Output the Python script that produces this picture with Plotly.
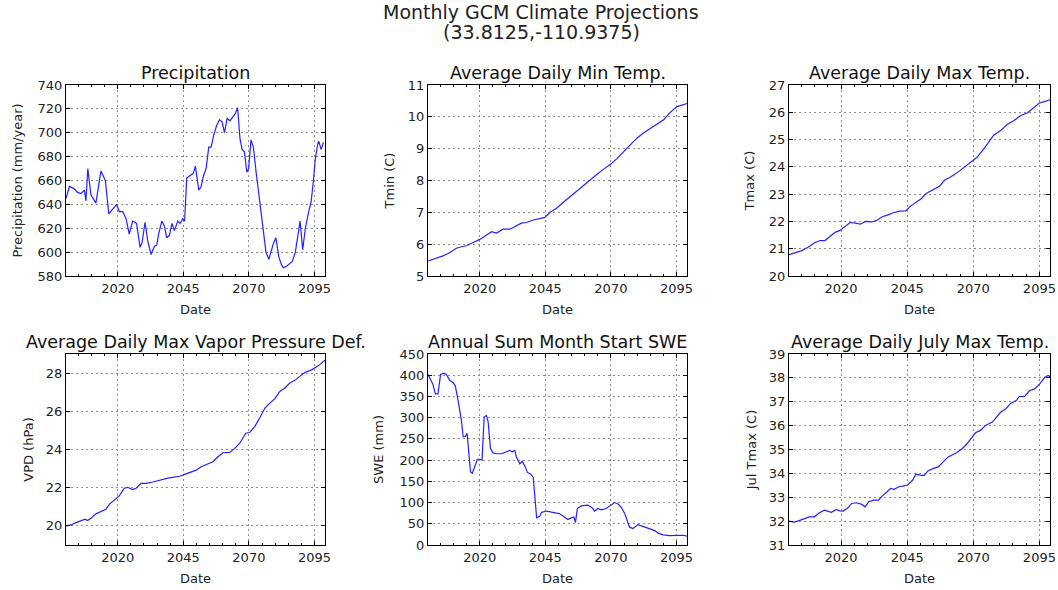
import plotly.graph_objects as go

# ---------------- data ----------------
precip_years = [2000.3, 2001.6, 2003.5, 2004.7, 2006.0, 2007.3, 2007.9, 2008.6, 2009.8, 2011.7,
                2013.6, 2015.3, 2016.6, 2018.1, 2019.6, 2020.6, 2021.9, 2023.2, 2024.4, 2025.7,
                2027.2, 2028.5, 2029.3, 2030.4, 2031.4, 2032.7, 2034.0, 2034.9, 2035.6, 2036.8,
                2037.8, 2038.7, 2039.7, 2040.7, 2041.6, 2042.9, 2043.8, 2044.8, 2045.5, 2046.3,
                2047.9, 2048.8, 2049.6, 2050.9, 2051.8, 2052.7, 2053.7, 2054.7, 2055.6, 2056.6,
                2057.7, 2058.8, 2059.8, 2060.7, 2061.7, 2062.8, 2064.1, 2064.8, 2065.7, 2066.6,
                2067.4, 2068.3, 2069.2, 2069.9, 2070.8, 2071.7, 2072.7, 2074.0, 2075.3, 2076.5,
                2077.6, 2078.4, 2079.3, 2080.3, 2081.4, 2082.3, 2083.1, 2084.2, 2085.2, 2086.5,
                2087.7, 2088.6, 2089.5, 2090.5, 2091.5, 2092.8, 2093.7, 2094.6, 2095.3, 2096.2,
                2096.6, 2097.5, 2098.4]
precip_vals = [645, 655, 653, 650, 649, 652, 643, 670, 648, 641,
               668, 660, 632, 636, 640, 634, 634, 628, 615, 626,
               624, 604, 608, 625, 610, 598, 605, 606, 615, 626,
               622, 612, 614, 624, 618, 626, 624, 628, 626, 662,
               665, 666, 672, 652, 655, 664, 670, 688, 688, 698,
               706, 711, 709, 700, 712, 710, 714, 716, 721, 695,
               686, 684, 667, 670, 694, 688, 668, 645, 622, 600,
               594, 600, 607, 612, 596, 590, 587, 588, 590, 592,
               600, 614, 626, 602, 620, 634, 642, 660, 678, 690,
               693, 686, 692]

tmin_years = [2000.3, 2003.4, 2006.0, 2008.5, 2011.1, 2013.0, 2014.9, 2017.5, 2020.0, 2022.5,
              2024.5, 2026.4, 2028.9, 2031.5, 2034.0, 2035.9, 2037.8, 2040.4, 2042.9, 2044.8,
              2046.8, 2049.3, 2051.8, 2054.4, 2056.9, 2059.5, 2062.0, 2064.6, 2067.1, 2069.7,
              2072.2, 2074.8, 2077.3, 2079.9, 2082.4, 2085.0, 2087.5, 2090.1, 2092.6, 2095.2,
              2097.1, 2099.0]
tmin_vals = [5.47, 5.56, 5.63, 5.73, 5.87, 5.92, 5.95, 6.05, 6.15, 6.28,
             6.39, 6.35, 6.47, 6.47, 6.58, 6.66, 6.68, 6.76, 6.80, 6.84,
             7.00, 7.13, 7.31, 7.49, 7.68, 7.85, 8.03, 8.19, 8.35, 8.50,
             8.68, 8.90, 9.14, 9.33, 9.49, 9.64, 9.77, 9.91, 10.14, 10.32,
             10.37, 10.42]

tmax_years = [2000.3, 2002.4, 2004.9, 2007.5, 2010.0, 2012.0, 2013.9, 2015.8, 2017.7, 2019.6,
              2021.5, 2023.4, 2025.4, 2027.3, 2029.2, 2031.7, 2033.7, 2035.6, 2037.5, 2039.5,
              2042.0, 2044.5, 2046.4, 2048.4, 2050.3, 2052.2, 2054.7, 2057.3, 2059.2, 2061.1,
              2063.7, 2066.2, 2068.8, 2071.3, 2073.9, 2075.8, 2077.7, 2080.3, 2082.8, 2085.4,
              2087.9, 2090.5, 2092.4, 2095.0, 2097.5, 2099.0]
tmax_vals = [20.78, 20.85, 20.92, 21.05, 21.22, 21.30, 21.30, 21.45, 21.60, 21.67,
             21.82, 21.96, 21.94, 21.90, 22.00, 21.98, 22.05, 22.17, 22.23, 22.31,
             22.38, 22.39, 22.57, 22.70, 22.83, 23.02, 23.15, 23.30, 23.52, 23.61,
             23.77, 23.95, 24.16, 24.34, 24.65, 24.92, 25.16, 25.33, 25.55, 25.70,
             25.88, 25.98, 26.13, 26.34, 26.41, 26.46]

vpd_years = [2000.3, 2002.2, 2004.1, 2006.0, 2007.6, 2008.5, 2009.8, 2011.7, 2013.6, 2015.5,
             2016.8, 2018.7, 2020.6, 2022.5, 2023.8, 2025.7, 2027.0, 2028.9, 2030.8, 2033.4,
             2035.3, 2037.2, 2039.1, 2041.0, 2043.6, 2045.5, 2047.4, 2049.9, 2051.8, 2054.4,
             2056.3, 2058.2, 2060.1, 2062.7, 2064.6, 2066.5, 2068.8, 2070.3, 2072.2, 2074.1,
             2076.1, 2078.0, 2079.9, 2081.8, 2083.7, 2085.6, 2087.5, 2089.4, 2091.3, 2093.9,
             2096.4, 2098.3, 2099.0]
vpd_vals = [20.00, 20.05, 20.17, 20.26, 20.35, 20.28, 20.40, 20.63, 20.75, 20.87,
            21.13, 21.36, 21.57, 21.97, 22.02, 21.90, 21.97, 22.23, 22.23, 22.30,
            22.37, 22.43, 22.50, 22.54, 22.60, 22.70, 22.78, 22.92, 23.10, 23.23,
            23.36, 23.62, 23.83, 23.85, 24.06, 24.33, 24.85, 24.89, 25.20, 25.65,
            26.17, 26.43, 26.66, 27.04, 27.22, 27.48, 27.62, 27.83, 28.03, 28.17,
            28.38, 28.60, 28.68]

swe_years = [2000.3, 2002.2, 2003.1, 2004.1, 2005.1, 2006.4, 2007.3, 2008.6, 2009.8, 2010.7,
             2011.7, 2013.0, 2013.7, 2014.5, 2015.2, 2015.8, 2016.5, 2017.2, 2018.1, 2019.1,
             2020.0, 2020.9, 2021.7, 2022.6, 2023.2, 2024.1, 2025.1, 2026.4, 2028.3, 2030.2,
             2031.5, 2032.4, 2033.4, 2034.0, 2035.3, 2036.2, 2037.2, 2038.2, 2039.5, 2040.4,
             2041.0, 2041.7, 2042.9, 2043.6, 2045.5, 2046.7, 2048.0, 2049.3, 2050.4, 2052.3,
             2053.6, 2054.9, 2055.9, 2056.5, 2057.2, 2058.7, 2061.2, 2062.8, 2063.8, 2065.0,
             2066.3, 2068.2, 2069.5, 2071.4, 2072.9, 2074.0, 2075.2, 2077.1, 2078.4, 2080.3,
             2082.2, 2084.1, 2085.4, 2086.7, 2088.0, 2089.9, 2092.4, 2095.0, 2097.5, 2099.0]
swe_vals = [402, 378, 356, 356, 402, 405, 402, 388, 383, 375,
            343, 295, 255, 255, 263, 219, 172, 169, 186, 202,
            202, 200, 302, 305, 291, 227, 217, 215, 215, 219,
            223, 219, 223, 207, 191, 197, 186, 171, 167, 159,
            108, 64, 68, 77, 80, 78, 77, 75, 74, 66,
            60, 64, 66, 53, 86, 92, 94, 88, 80, 86,
            83, 86, 92, 100, 96, 88, 75, 42, 39, 48,
            44, 40, 36, 34, 28, 24, 22, 22, 23, 21]

jul_years = [2000.3, 2002.2, 2004.1, 2006.0, 2008.0, 2009.9, 2011.8, 2013.7, 2015.0, 2016.3,
             2018.2, 2019.5, 2020.8, 2022.7, 2024.0, 2025.9, 2027.8, 2029.1, 2030.4, 2032.3,
             2034.2, 2035.5, 2037.4, 2038.7, 2040.0, 2041.9, 2043.8, 2045.1, 2047.1, 2048.3,
             2050.3, 2051.5, 2052.8, 2054.7, 2056.7, 2058.6, 2060.5, 2063.1, 2065.6, 2067.6,
             2069.5, 2070.8, 2072.7, 2074.6, 2077.2, 2078.5, 2080.4, 2082.3, 2084.2, 2086.2,
             2087.4, 2089.4, 2091.3, 2093.2, 2095.1, 2097.1, 2098.3, 2099.0]
jul_vals = [32.00, 31.96, 32.02, 32.09, 32.18, 32.18, 32.35, 32.46, 32.43, 32.37,
            32.49, 32.43, 32.42, 32.57, 32.74, 32.77, 32.70, 32.60, 32.81, 32.88,
            32.88, 33.05, 33.23, 33.37, 33.33, 33.44, 33.48, 33.51, 33.72, 33.97,
            33.92, 33.92, 34.10, 34.20, 34.27, 34.48, 34.69, 34.83, 35.01, 35.24,
            35.52, 35.70, 35.80, 36.01, 36.15, 36.33, 36.57, 36.71, 36.94, 37.05,
            37.22, 37.22, 37.47, 37.54, 37.75, 38.03, 38.10, 38.05]

panel_titles = ["Precipitation", "Average Daily Min Temp.", "Average Daily Max Temp.",
                "Average Daily Max Vapor Pressure Def.", "Annual Sum Month Start SWE",
                "Average Daily July Max Temp."]
y_labels = ["Precipitation (mm/year)", "Tmin (C)", "Tmax (C)", "VPD (hPa)", "SWE (mm)", "Jul Tmax (C)"]
x_label = "Date"
x_ticks = [2020, 2045, 2070, 2095]
main_title_lines = ["Monthly GCM Climate Projections", "(33.8125,-110.9375)"]

series = [(precip_years, precip_vals), (tmin_years, tmin_vals), (tmax_years, tmax_vals),
          (vpd_years, vpd_vals), (swe_years, swe_vals), (jul_years, jul_vals)]
y_ranges = [[580, 740], [5, 11], [20, 27], [19, 29], [0, 450], [31, 39]]
y_dticks = [20, 1, 1, 2, 50, 1]
y_tick0 = [580, 5, 20, 20, 0, 31]

# ---------------- layout geometry ----------------
W, H = 1058, 590
col_px = [(66, 325), (428, 687), (789, 1050)]
row_px = [(85, 276), (354, 545)]
ytitle_standoff = [12, 10, 11, 9, 13, 9]
x_range = [2000.3, 2099.0]
FONT = "DejaVu Sans"
TXT = "#222222"

fig = go.Figure()
layout = dict(
    width=W, height=H, margin=dict(l=0, r=0, t=0, b=0, autoexpand=False),
    paper_bgcolor="white", plot_bgcolor="white", showlegend=False,
    font=dict(family=FONT, size=13, color=TXT),
    annotations=[],
)

for i, (xs, ys) in enumerate(series):
    r, c = divmod(i, 3)
    n = i + 1
    xa = "x" if n == 1 else f"x{n}"
    ya = "y" if n == 1 else f"y{n}"
    fig.add_trace(go.Scatter(x=xs, y=ys, mode="lines", xaxis=xa, yaxis=ya,
                             line=dict(color="#2222ff", width=1.2)))
    x0, x1 = col_px[c]
    y0, y1 = row_px[r]
    xdom = [x0 / W, x1 / W]
    ydom = [1 - y1 / H, 1 - y0 / H]
    common = dict(showline=True, linecolor="black", linewidth=1, mirror="ticks",
                  ticks="inside", ticklen=4, tickcolor="black", automargin=False,
                  showgrid=True, gridcolor="#8c8c8c", gridwidth=1, griddash="2px,3px",
                  zeroline=False, tickfont=dict(family=FONT, size=13, color=TXT))
    layout["xaxis" if n == 1 else f"xaxis{n}"] = dict(
        common, domain=xdom, anchor=ya, range=x_range, tickvals=x_ticks,
        ticktext=[str(t) for t in x_ticks],
        minor=dict(tickvals=list(range(2005, 2100, 5)), ticks="inside", ticklen=2,
                   tickcolor="black", showgrid=False),
        title=dict(text=x_label, standoff=10, font=dict(family=FONT, size=13, color=TXT)),
    )
    layout["yaxis" if n == 1 else f"yaxis{n}"] = dict(
        common, domain=ydom, anchor=xa, range=y_ranges[i], tick0=y_tick0[i], dtick=y_dticks[i],
        title=dict(text=y_labels[i], standoff=ytitle_standoff[i],
                   font=dict(family=FONT, size=13, color=TXT)),
    )
    layout["annotations"].append(dict(
        text=panel_titles[i], xref="paper", yref="paper",
        x=(xdom[0] + xdom[1]) / 2, y=ydom[1], xanchor="center", yanchor="bottom",
        yshift=0, showarrow=False, font=dict(family=FONT, size=17.5, color="#111111")))

for k, (line, ypx) in enumerate(zip(main_title_lines, [12, 32])):
    layout["annotations"].append(dict(
        text=line, xref="paper", yref="paper", x=541 / W, y=1 - ypx / H, xanchor="center",
        yanchor="middle", showarrow=False,
        font=dict(family=FONT, size=19, color=TXT)))

fig.update_layout(**layout)
fig.write_html("out.html")
